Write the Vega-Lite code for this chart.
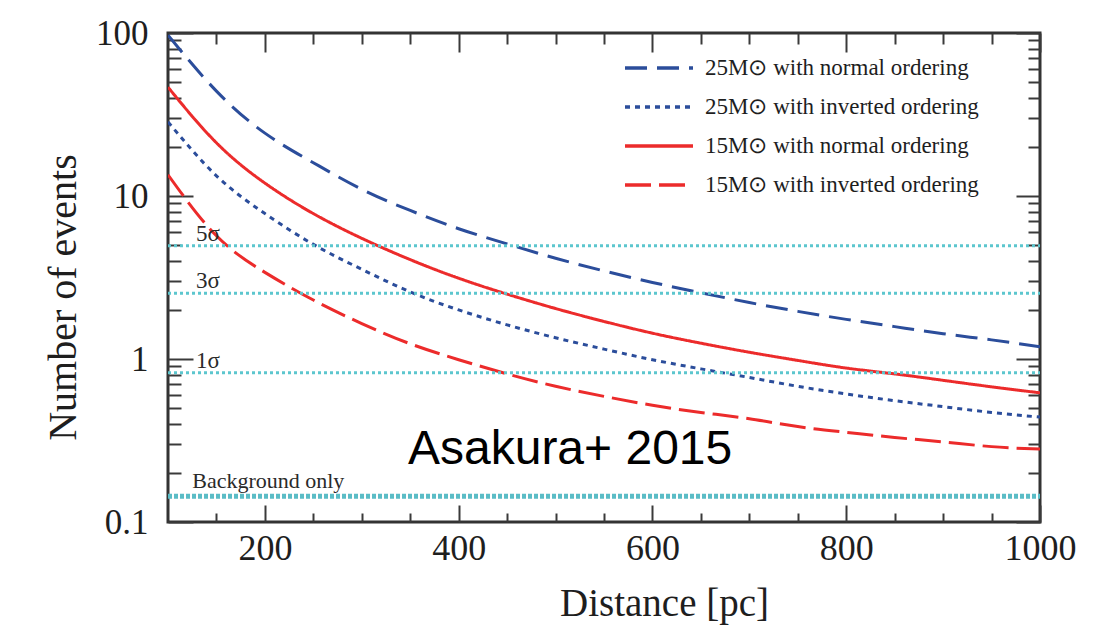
{
  "$schema": "https://vega.github.io/schema/vega-lite/v6.json",
  "width": 872,
  "height": 489,
  "autosize": {"type": "none"},
  "padding": {"left": 168, "top": 33, "right": 53, "bottom": 106},
  "background": "white",
  "config": {
    "view": {"stroke": "#333333", "strokeWidth": 3},
    "font": "Liberation Serif",
    "axis": {
      "grid": false,
      "domain": false,
      "labelFont": "Liberation Serif",
      "titleFont": "Liberation Serif",
      "titleFontWeight": "normal",
      "labelColor": "#1e1e1e",
      "titleColor": "#1e1e1e",
      "tickColor": "#3a3a3a",
      "tickWidth": 2
    }
  },
  "datasets": {
    "curves": [
      {"series": "25M⊙ with normal ordering", "distance": 100, "events": 97},
      {"series": "25M⊙ with normal ordering", "distance": 150, "events": 44.0},
      {"series": "25M⊙ with normal ordering", "distance": 200, "events": 24.3},
      {"series": "25M⊙ with normal ordering", "distance": 250, "events": 16.0},
      {"series": "25M⊙ with normal ordering", "distance": 300, "events": 11.0},
      {"series": "25M⊙ with normal ordering", "distance": 350, "events": 8.15},
      {"series": "25M⊙ with normal ordering", "distance": 400, "events": 6.3},
      {"series": "25M⊙ with normal ordering", "distance": 450, "events": 5.08},
      {"series": "25M⊙ with normal ordering", "distance": 500, "events": 4.15},
      {"series": "25M⊙ with normal ordering", "distance": 550, "events": 3.47},
      {"series": "25M⊙ with normal ordering", "distance": 600, "events": 2.95},
      {"series": "25M⊙ with normal ordering", "distance": 650, "events": 2.55},
      {"series": "25M⊙ with normal ordering", "distance": 700, "events": 2.22},
      {"series": "25M⊙ with normal ordering", "distance": 750, "events": 1.96},
      {"series": "25M⊙ with normal ordering", "distance": 800, "events": 1.75},
      {"series": "25M⊙ with normal ordering", "distance": 850, "events": 1.58},
      {"series": "25M⊙ with normal ordering", "distance": 900, "events": 1.43},
      {"series": "25M⊙ with normal ordering", "distance": 950, "events": 1.31},
      {"series": "25M⊙ with normal ordering", "distance": 1000, "events": 1.19},

      {"series": "25M⊙ with inverted ordering", "distance": 100, "events": 28.5},
      {"series": "25M⊙ with inverted ordering", "distance": 150, "events": 13.3},
      {"series": "25M⊙ with inverted ordering", "distance": 200, "events": 7.8},
      {"series": "25M⊙ with inverted ordering", "distance": 250, "events": 5.05},
      {"series": "25M⊙ with inverted ordering", "distance": 300, "events": 3.55},
      {"series": "25M⊙ with inverted ordering", "distance": 350, "events": 2.58},
      {"series": "25M⊙ with inverted ordering", "distance": 400, "events": 2.0},
      {"series": "25M⊙ with inverted ordering", "distance": 450, "events": 1.62},
      {"series": "25M⊙ with inverted ordering", "distance": 500, "events": 1.35},
      {"series": "25M⊙ with inverted ordering", "distance": 550, "events": 1.15},
      {"series": "25M⊙ with inverted ordering", "distance": 600, "events": 0.99},
      {"series": "25M⊙ with inverted ordering", "distance": 650, "events": 0.87},
      {"series": "25M⊙ with inverted ordering", "distance": 700, "events": 0.77},
      {"series": "25M⊙ with inverted ordering", "distance": 750, "events": 0.68},
      {"series": "25M⊙ with inverted ordering", "distance": 800, "events": 0.61},
      {"series": "25M⊙ with inverted ordering", "distance": 850, "events": 0.555},
      {"series": "25M⊙ with inverted ordering", "distance": 900, "events": 0.51},
      {"series": "25M⊙ with inverted ordering", "distance": 950, "events": 0.47},
      {"series": "25M⊙ with inverted ordering", "distance": 1000, "events": 0.44},

      {"series": "15M⊙ with normal ordering", "distance": 100, "events": 46.5},
      {"series": "15M⊙ with normal ordering", "distance": 150, "events": 21.2},
      {"series": "15M⊙ with normal ordering", "distance": 200, "events": 12.0},
      {"series": "15M⊙ with normal ordering", "distance": 250, "events": 7.8},
      {"series": "15M⊙ with normal ordering", "distance": 300, "events": 5.5},
      {"series": "15M⊙ with normal ordering", "distance": 350, "events": 4.07},
      {"series": "15M⊙ with normal ordering", "distance": 400, "events": 3.13},
      {"series": "15M⊙ with normal ordering", "distance": 450, "events": 2.5},
      {"series": "15M⊙ with normal ordering", "distance": 500, "events": 2.04},
      {"series": "15M⊙ with normal ordering", "distance": 550, "events": 1.7},
      {"series": "15M⊙ with normal ordering", "distance": 600, "events": 1.44},
      {"series": "15M⊙ with normal ordering", "distance": 650, "events": 1.25},
      {"series": "15M⊙ with normal ordering", "distance": 700, "events": 1.1},
      {"series": "15M⊙ with normal ordering", "distance": 750, "events": 0.98},
      {"series": "15M⊙ with normal ordering", "distance": 800, "events": 0.88},
      {"series": "15M⊙ with normal ordering", "distance": 850, "events": 0.81},
      {"series": "15M⊙ with normal ordering", "distance": 900, "events": 0.74},
      {"series": "15M⊙ with normal ordering", "distance": 950, "events": 0.675},
      {"series": "15M⊙ with normal ordering", "distance": 1000, "events": 0.62},

      {"series": "15M⊙ with inverted ordering", "distance": 100, "events": 13.5},
      {"series": "15M⊙ with inverted ordering", "distance": 150, "events": 5.7},
      {"series": "15M⊙ with inverted ordering", "distance": 200, "events": 3.4},
      {"series": "15M⊙ with inverted ordering", "distance": 250, "events": 2.3},
      {"series": "15M⊙ with inverted ordering", "distance": 300, "events": 1.65},
      {"series": "15M⊙ with inverted ordering", "distance": 350, "events": 1.24},
      {"series": "15M⊙ with inverted ordering", "distance": 400, "events": 0.99},
      {"series": "15M⊙ with inverted ordering", "distance": 450, "events": 0.81},
      {"series": "15M⊙ with inverted ordering", "distance": 500, "events": 0.68},
      {"series": "15M⊙ with inverted ordering", "distance": 550, "events": 0.59},
      {"series": "15M⊙ with inverted ordering", "distance": 600, "events": 0.52},
      {"series": "15M⊙ with inverted ordering", "distance": 650, "events": 0.47},
      {"series": "15M⊙ with inverted ordering", "distance": 700, "events": 0.43},
      {"series": "15M⊙ with inverted ordering", "distance": 750, "events": 0.385},
      {"series": "15M⊙ with inverted ordering", "distance": 800, "events": 0.355},
      {"series": "15M⊙ with inverted ordering", "distance": 850, "events": 0.33},
      {"series": "15M⊙ with inverted ordering", "distance": 900, "events": 0.31},
      {"series": "15M⊙ with inverted ordering", "distance": 950, "events": 0.29},
      {"series": "15M⊙ with inverted ordering", "distance": 1000, "events": 0.28}
    ],
    "levels": [
      {"level": "5σ", "events": 4.95},
      {"level": "3σ", "events": 2.53},
      {"level": "1σ", "events": 0.824}
    ],
    "backgroundLevel": [
      {"level": "Background only", "events": 0.144}
    ]
  },
  "resolve": {"axis": {"x": "independent", "y": "independent"}},
  "layer": [
    {
      "data": {"name": "curves"},
      "mark": {"type": "line", "strokeWidth": 3, "interpolate": "natural", "clip": true},
      "encoding": {
        "x": {
          "field": "distance", "type": "quantitative",
          "scale": {"type": "linear", "domain": [100, 1000], "nice": false, "zero": false},
          "axis": {
            "orient": "bottom", "values": [200, 400, 600, 800, 1000], "ticks": false, "format": "d",
            "labelFontSize": 36, "labelPadding": 9, "labelFlush": false,
            "title": "Distance [pc]", "titleFontSize": 39,
            "titleX": 496, "titleY": 93, "titleAlign": "center", "titleBaseline": "alphabetic"
          }
        },
        "y": {
          "field": "events", "type": "quantitative",
          "scale": {"type": "log", "domain": [0.1, 100], "nice": false},
          "axis": {
            "orient": "left", "values": [0.1, 1, 10, 100], "ticks": false, "format": "~g",
            "labelFontSize": 35, "labelPadding": 20, "labelFlush": false,
            "title": "Number of events", "titleFontSize": 40, "titleAngle": 270,
            "titleX": -93, "titleY": 264, "titleAlign": "center", "titleBaseline": "alphabetic"
          }
        },
        "color": {
          "field": "series", "type": "nominal",
          "scale": {
            "domain": ["25M⊙ with normal ordering", "25M⊙ with inverted ordering", "15M⊙ with normal ordering", "15M⊙ with inverted ordering"],
            "range": ["#2b4d9b", "#2b4d9b", "#ec2b2b", "#ec2b2b"]
          },
          "legend": {
            "title": null, "orient": "none", "legendX": 455, "legendY": 23, "padding": 0,
            "symbolType": "stroke", "symbolSize": 4624, "symbolStrokeWidth": 3.5,
            "clipHeight": 24, "rowPadding": 15, "labelOffset": 10, "labelLimit": 400,
            "labelFont": "Liberation Serif", "labelFontSize": 23, "labelColor": "#1e1e1e"
          }
        },
        "strokeDash": {
          "field": "series", "type": "nominal",
          "scale": {
            "domain": ["25M⊙ with normal ordering", "25M⊙ with inverted ordering", "15M⊙ with normal ordering", "15M⊙ with inverted ordering"],
            "range": [[22, 10], [5, 5], [1, 0], [26, 8]]
          },
          "legend": {
            "title": null, "orient": "none", "legendX": 455, "legendY": 23, "padding": 0,
            "symbolType": "stroke", "symbolSize": 4624, "symbolStrokeWidth": 3.5,
            "clipHeight": 24, "rowPadding": 15, "labelOffset": 10, "labelLimit": 400,
            "labelFont": "Liberation Serif", "labelFontSize": 23, "labelColor": "#1e1e1e"
          }
        }
      }
    },
    {
      "data": {"name": "levels"},
      "mark": {"type": "rule", "color": "#5cc6ce", "strokeWidth": 3, "strokeDash": [3, 3]},
      "encoding": {
        "x": {
          "datum": 100, "type": "quantitative",
          "scale": {"type": "linear", "domain": [100, 1000], "nice": false, "zero": false},
          "axis": {"orient": "top", "offset": -489, "values": [200, 400, 600, 800, 1000], "labels": false, "tickSize": 17, "title": null}
        },
        "x2": {"datum": 1000},
        "y": {
          "field": "events", "type": "quantitative",
          "scale": {"type": "log", "domain": [0.1, 100], "nice": false},
          "axis": {"orient": "right", "offset": -872, "values": [0.1, 1, 10, 100], "labels": false, "tickSize": 25, "title": null}
        }
      }
    },
    {
      "data": {"name": "levels"},
      "mark": {"type": "text", "align": "left", "baseline": "alphabetic", "dy": -5, "font": "Liberation Serif", "fontSize": 23, "color": "#2a2a2a"},
      "encoding": {
        "x": {
          "datum": 129, "type": "quantitative",
          "scale": {"type": "linear", "domain": [100, 1000], "nice": false, "zero": false},
          "axis": {"orient": "top", "offset": -489, "values": [150, 250, 300, 350, 450, 500, 550, 650, 700, 750, 850, 900, 950], "labels": false, "tickSize": 9, "title": null}
        },
        "y": {
          "field": "events", "type": "quantitative",
          "scale": {"type": "log", "domain": [0.1, 100], "nice": false},
          "axis": {"orient": "right", "offset": -872, "values": [0.2, 0.3, 0.4, 0.5, 0.6, 0.7, 0.8, 0.9, 2, 3, 4, 5, 6, 7, 8, 9, 20, 30, 40, 50, 60, 70, 80, 90], "labels": false, "tickSize": 13, "title": null}
        },
        "text": {"field": "level"}
      }
    },
    {
      "data": {"name": "backgroundLevel"},
      "mark": {"type": "rule", "color": "#5abcc6", "strokeWidth": 5, "strokeDash": [4, 2]},
      "encoding": {
        "x": {
          "datum": 100, "type": "quantitative",
          "scale": {"type": "linear", "domain": [100, 1000], "nice": false, "zero": false},
          "axis": {"orient": "bottom", "offset": -489, "values": [200, 400, 600, 800, 1000], "labels": false, "tickSize": 19, "title": null}
        },
        "x2": {"datum": 1000},
        "y": {
          "field": "events", "type": "quantitative",
          "scale": {"type": "log", "domain": [0.1, 100], "nice": false},
          "axis": {"orient": "left", "offset": -872, "values": [0.1, 1, 10, 100], "labels": false, "tickSize": 24, "title": null}
        }
      }
    },
    {
      "data": {"name": "backgroundLevel"},
      "mark": {"type": "text", "align": "left", "baseline": "alphabetic", "dy": -8, "font": "Liberation Serif", "fontSize": 22, "color": "#2a2a2a"},
      "encoding": {
        "x": {
          "datum": 125, "type": "quantitative",
          "scale": {"type": "linear", "domain": [100, 1000], "nice": false, "zero": false},
          "axis": {"orient": "bottom", "offset": -489, "values": [150, 250, 300, 350, 450, 500, 550, 650, 700, 750, 850, 900, 950], "labels": false, "tickSize": 11, "title": null}
        },
        "y": {
          "field": "events", "type": "quantitative",
          "scale": {"type": "log", "domain": [0.1, 100], "nice": false},
          "axis": {"orient": "left", "offset": -872, "values": [0.2, 0.3, 0.4, 0.5, 0.6, 0.7, 0.8, 0.9, 2, 3, 4, 5, 6, 7, 8, 9, 20, 30, 40, 50, 60, 70, 80, 90], "labels": false, "tickSize": 12, "title": null}
        },
        "text": {"field": "level"}
      }
    },
    {
      "data": {"values": [{"note": "Asakura+ 2015"}]},
      "mark": {"type": "text", "align": "center", "baseline": "alphabetic", "font": "Liberation Sans", "fontSize": 48, "color": "#000000"},
      "encoding": {
        "x": {"datum": 515, "type": "quantitative", "scale": {"type": "linear", "domain": [100, 1000], "nice": false, "zero": false}, "axis": null},
        "y": {"datum": 0.227, "type": "quantitative", "scale": {"type": "log", "domain": [0.1, 100], "nice": false}, "axis": null},
        "text": {"field": "note"}
      }
    }
  ]
}
